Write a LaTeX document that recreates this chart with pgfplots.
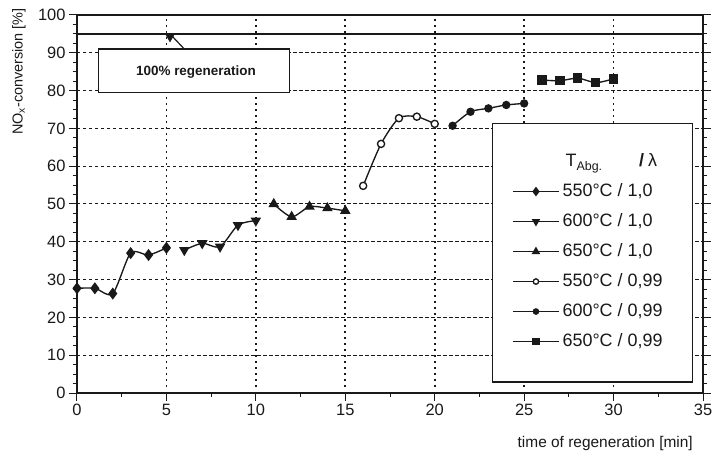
\documentclass[border=0pt]{standalone}
\usepackage{fontspec}
\setmainfont{Liberation Sans}
\usepackage{pgfplots}
\pgfplotsset{compat=1.18}

\definecolor{ink}{gray}{0.1}

\pgfplotsset{
  ser/.style={ink, line width=1.35bp, smooth, tension=0.45},
}
\tikzset{
  xgrid/.style={draw=ink, line width=1.6bp, dash pattern=on 1.5bp off 4.5bp},
  ygrid/.style={draw=ink, line width=1bp, dash pattern=on 3.5bp off 2.5bp},
}

\begin{document}
\begin{tikzpicture}
\begin{axis}[
  scale only axis, width=626bp, height=378bp,
  xmin=0, xmax=35, ymin=0, ymax=100,
  xtick={0,5,...,35}, ytick={0,10,...,100},
  minor x tick num=1, minor y tick num=3,
  tick align=outside,
  xtick pos=left, ytick pos=both, yticklabel pos=left,
  axis line style={line width=1.2bp, ink},
  major tick length=8bp, minor tick length=4bp,
  tick style={ink, line width=1bp},
  tick label style={font=\fontsize{16.5}{18}\selectfont, text=ink},
  /pgf/number format/assume math mode=true,
  xlabel={time of regeneration [min]},
  xlabel style={at={(axis description cs:0.984,-0.1445)}, anchor=base east,
    font=\fontsize{15.5}{18}\selectfont, text=ink, inner sep=0pt},
  ylabel={NO\textsubscript{x}-conversion [\%]},
  ylabel style={at={(axis description cs:-0.0927,1.0185)}, anchor=east,
    font=\fontsize{14.5}{16}\selectfont, text=ink, inner sep=0pt},
  legend style={at={(axis description cs:0.695,0.636)}, anchor=north west,
    draw=none, fill=none, inner sep=0pt, row sep=12.5bp, column sep=3bp,
    font=\fontsize{18}{20}\selectfont, text=ink,
    nodes={inner sep=0pt, text height=13.5bp, text depth=4bp}},
  legend cell align=left,
  legend image code/.code={\draw[mark repeat=2, mark phase=2, #1]
    plot coordinates {(0bp,0bp) (23bp,0bp) (46bp,0bp)};},
  legend image post style={/tikz/every mark/.append style={scale=0.75}},
  clip=false,
]
% grid: dotted verticals every 5 min, dashed horizontals every 10 %
\pgfplotsinvokeforeach{5,10,15,20,25,30}{
  \draw[xgrid] (axis cs:#1,0) -- (axis cs:#1,100);
}
\pgfplotsinvokeforeach{10,20,30,40,50,60,70,80,90}{
  \draw[ygrid] (axis cs:0,#1) -- (axis cs:35,#1);
}

% legend heading: exhaust temperature / lambda
\addlegendimage{empty legend}
\addlegendentry{\hspace{3bp}T\raisebox{-4bp}{\fontsize{12.5}{13}\selectfont Abg.}\hspace{37bp}\textbf{/}\hspace{4bp}λ}

% framed boxes for the legend and the reference annotation
\draw[ink, line width=1.2bp, fill=white] (axis cs:23.24,71.4) rectangle (axis cs:34.4,2.9);
\draw[ink, line width=1.2bp, fill=white] (axis cs:1.2,91) rectangle (axis cs:11.9,79.4);
\node[font=\bfseries\fontsize{13.5}{15}\selectfont, text=ink] at (axis cs:6.65,84.9) {100\% regeneration};

% conversion reached with complete regeneration
\addplot[forget plot, ink, line width=1.8bp] coordinates {(0,95) (35,95)};
\draw[ink, line width=1.2bp] (axis cs:5.2,95) -- (axis cs:6.0,91);
\addplot[forget plot, ink, only marks, mark=triangle*, mark size=5,
  mark options={rotate=180}] coordinates {(5.2,94.2)};

\addplot[ser, mark=diamond*, mark size=5] coordinates
  {(0,27.7) (1,27.7) (2,26.3) (3,37.0) (4,36.5) (5,38.4)};
\addlegendentry{550°C / 1,0}
\addplot[ser, mark=triangle*, mark size=4.8, mark options={rotate=180}] coordinates
  {(6,37.8) (7,39.6) (8,38.7) (9,44.4) (10,45.6)};
\addlegendentry{600°C / 1,0}
\addplot[ser, mark=triangle*, mark size=4.8] coordinates
  {(11,50.0) (12,46.6) (13,49.3) (14,48.9) (15,48.2)};
\addlegendentry{650°C / 1,0}
\addplot[ser, mark=*, mark size=3.6, mark options={fill=white}] coordinates
  {(16,54.8) (17,65.9) (18,72.7) (19,73.1) (20,71.2)};
\addlegendentry{550°C / 0,99}
\addplot[ser, mark=*, mark size=3.5] coordinates
  {(21,70.7) (22,74.4) (23,75.3) (24,76.2) (25,76.6)};
\addlegendentry{600°C / 0,99}
\addplot[ser, mark=square*, mark size=4] coordinates
  {(26,82.8) (27,82.6) (28,83.3) (29,82.1) (30,83.1)};
\addlegendentry{650°C / 0,99}
\end{axis}
\pgfresetboundingbox
\path (-77bp,-60bp) rectangle (635bp,393bp);
\end{tikzpicture}
\end{document}
